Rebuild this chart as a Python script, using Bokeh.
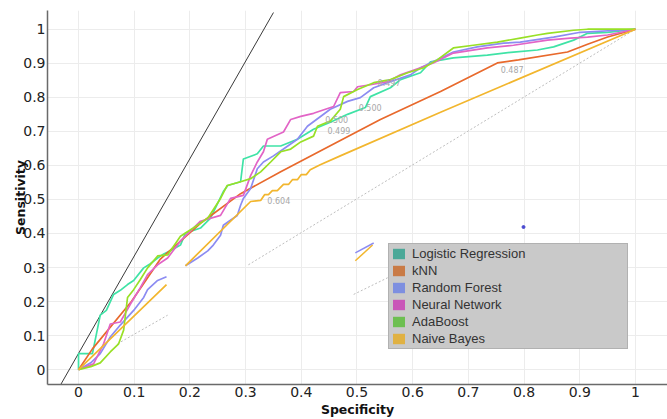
import math
from bokeh.plotting import figure
from bokeh.models import FixedTicker, Range1d, Legend, LegendItem
from bokeh.core.properties import value
from bokeh.embed import file_html
from bokeh.resources import INLINE

nan = float("nan")

# ---- data ----
tick_values = [0.0, 0.1, 0.2, 0.3, 0.4, 0.5, 0.6, 0.7, 0.8, 0.9, 1.0]
tick_labels = ["0", "0.1", "0.2", "0.3", "0.4", "0.5", "0.6", "0.7", "0.8", "0.9", "1"]

model_names = ["Logistic Regression", "kNN", "Random Forest", "Neural Network", "AdaBoost", "Naive Bayes"]
curve_colors = ["#3fe3a6", "#e8692c", "#8c8cf2", "#e264c6", "#98e026", "#f2b62e"]
swatch_colors = ["#4ba898", "#c97b46", "#7d8fe0", "#c956b8", "#6dbf51", "#e0b142"]

lr_x = [0, 0, 0.025, 0.039, 0.050, 0.063, 0.075, 0.088, 0.099, 0.117, 0.129, 0.142, 0.153, 0.165,
        0.183, 0.192, 0.219, 0.237, 0.260, 0.268, 0.291, 0.296, 0.321, 0.332, 0.363, 0.393, 0.422,
        0.452, 0.483, 0.515, 0.524, 0.560, 0.578, 0.614, 0.632, 0.673, 0.734, 0.781, 0.824, 0.853,
        0.889, 0.914, 0.950, 1.0]
lr_y = [0, 0.047, 0.047, 0.160, 0.174, 0.221, 0.233, 0.250, 0.262, 0.299, 0.311, 0.328, 0.340, 0.349,
        0.366, 0.401, 0.416, 0.445, 0.523, 0.541, 0.552, 0.619, 0.634, 0.657, 0.657, 0.677, 0.706,
        0.727, 0.750, 0.770, 0.802, 0.828, 0.852, 0.872, 0.904, 0.916, 0.924, 0.933, 0.939, 0.948,
        0.968, 0.988, 0.991, 1.0]

knn_x = [0, 0.025, 0.095, 0.147, 0.219, 0.291, 0.363, 0.434, 0.542, 0.650, 0.752, 0.790, 0.878, 0.914, 0.950, 1.0]
knn_y = [0, 0.061, 0.200, 0.325, 0.430, 0.517, 0.581, 0.642, 0.735, 0.817, 0.901, 0.910, 0.933, 0.956, 0.977, 1.0]

rf_x = [0, 0.022, 0.039, 0.057, 0.075, 0.099, 0.117, 0.124, 0.142, 0.158, nan, 0.192, 0.214, 0.232,
        0.242, 0.255, 0.260, 0.285, 0.291, 0.296, 0.309, 0.321, 0.332, 0.350, 0.368, 0.393, 0.411,
        0.452, 0.483, 0.506, 0.530, 0.560, 0.596, 0.614, 0.644, 0.673, 0.716, 0.763, 0.793, 0.853,
        0.901, 1.0]
rf_y = [0, 0.020, 0.047, 0.096, 0.131, 0.174, 0.212, 0.235, 0.262, 0.273, nan, 0.305, 0.328, 0.349,
        0.366, 0.395, 0.424, 0.453, 0.483, 0.503, 0.532, 0.590, 0.610, 0.628, 0.648, 0.677, 0.715,
        0.765, 0.788, 0.799, 0.828, 0.846, 0.866, 0.887, 0.910, 0.933, 0.948, 0.959, 0.962, 0.977,
        0.991, 1.0]

nn_x = [0, 0.027, 0.045, 0.057, 0.075, 0.093, 0.111, 0.124, 0.142, 0.160, 0.183, 0.219, 0.255, 0.273,
        0.296, 0.309, 0.321, 0.332, 0.339, 0.368, 0.381, 0.399, 0.422, 0.458, 0.470, 0.494, 0.501,
        0.524, 0.555, 0.578, 0.614, 0.637, 0.673, 0.734, 0.781, 0.842, 0.883, 0.914, 0.950, 1.0]
nn_y = [0, 0.017, 0.076, 0.134, 0.140, 0.192, 0.241, 0.279, 0.308, 0.328, 0.378, 0.436, 0.453, 0.503,
        0.512, 0.570, 0.610, 0.640, 0.677, 0.698, 0.735, 0.744, 0.753, 0.773, 0.814, 0.817, 0.831,
        0.837, 0.846, 0.866, 0.887, 0.901, 0.930, 0.945, 0.953, 0.968, 0.974, 0.977, 0.983, 1.0]

ada_x = [0, 0.022, 0.039, 0.057, 0.072, 0.081, 0.088, 0.099, 0.111, 0.124, 0.142, 0.160, 0.183, 0.206,
         0.232, 0.255, 0.267, 0.291, 0.309, 0.327, 0.345, 0.363, 0.381, 0.399, 0.422, 0.429, 0.452,
         0.470, 0.476, 0.501, 0.530, 0.560, 0.591, 0.620, 0.644, 0.673, 0.709, 0.752, 0.793, 0.824,
         0.842, 0.889, 0.914, 1.0]
ada_y = [0, 0.009, 0.020, 0.052, 0.076, 0.116, 0.212, 0.235, 0.265, 0.299, 0.334, 0.337, 0.392, 0.416,
         0.445, 0.503, 0.541, 0.552, 0.561, 0.581, 0.610, 0.640, 0.648, 0.669, 0.686, 0.715, 0.730,
         0.765, 0.802, 0.823, 0.843, 0.852, 0.872, 0.887, 0.910, 0.945, 0.953, 0.962, 0.974, 0.983,
         0.988, 0.997, 1.0, 1.0]

nb_x = [0, 0.158, nan, 0.192, 0.309, 0.327, 0.334, 0.341, 0.348, 0.357, 0.368, 0.377, 0.384, 0.393,
        0.400, 0.409, 0.416, 0.434, 0.470, 0.650, 1.0]
nb_y = [0, 0.250, nan, 0.305, 0.494, 0.497, 0.514, 0.514, 0.526, 0.526, 0.544, 0.544, 0.558, 0.558,
        0.573, 0.573, 0.587, 0.602, 0.628, 0.756, 1.0]

curves_x = [lr_x, knn_x, rf_x, nn_x, ada_x, nb_x]
curves_y = [lr_y, knn_y, rf_y, nn_y, ada_y, nb_y]

# stray fragments visible in the reference image
frag_rf_x = [0.497, 0.530]
frag_rf_y = [0.343, 0.372]
frag_nb_x = [0.497, 0.528]
frag_nb_y = [0.320, 0.366]
dot_x = [0.799]
dot_y = [0.419]

# reference lines
steep_x = [-0.032, 0.350]
steep_y = [-0.044, 1.049]
diag_x = [0.070, 0.160, nan, 0.305, 1.0, nan, 0.494, 0.555]
diag_y = [0.076, 0.160, nan, 0.308, 1.0, nan, 0.221, 0.270]

ann_x = [0.339, 0.447, 0.443, 0.503, 0.537, 0.758]
ann_y = [0.497, 0.703, 0.735, 0.770, 0.843, 0.881]
ann_text = ["0.604", "0.499", "0.500", "0.500", "0.497", "0.487"]

# ---- figure ----
p = figure(width=667, height=419, output_backend="svg", toolbar_location=None,
           x_range=Range1d(-0.0557, 1.0575), y_range=Range1d(-0.0436, 1.055),
           min_border_left=47, min_border_right=0, min_border_top=10, min_border_bottom=0)
p.outline_line_color = None
p.background_fill_color = "white"
p.border_fill_color = "white"

ticker = FixedTicker(ticks=tick_values)
overrides = dict(zip(tick_values, tick_labels))
for ax in (p.xaxis[0], p.yaxis[0]):
    ax.ticker = ticker
    ax.major_label_overrides = overrides
    ax.major_tick_out = 0
    ax.major_tick_in = 0
    ax.minor_tick_out = 0
    ax.minor_tick_in = 0
    ax.axis_line_color = "#6a6a6a"
    ax.axis_line_width = 1.5
    ax.major_label_text_font = "DejaVu Sans"
    ax.major_label_text_font_size = "14px"
    ax.major_label_text_color = "#222222"
    ax.major_label_standoff = 2
    ax.axis_label_text_font = "DejaVu Sans"
    ax.axis_label_text_font_size = "12.5px"
    ax.axis_label_text_font_style = "bold"
    ax.axis_label_text_color = "#111111"
p.xaxis.axis_label = "Specificity"
p.yaxis.axis_label = "Sensitivity"
p.xaxis.axis_label_standoff = 2
p.yaxis.axis_label_standoff = -8

p.xgrid.ticker = ticker
p.ygrid.ticker = ticker
p.grid.grid_line_color = "#ececec"
p.grid.grid_line_width = 1

p.line(steep_x, steep_y, line_color="#3a3a3a", line_width=1)
p.line(diag_x, diag_y, line_color="#bdbdbd", line_width=1, line_dash="2 2")

for xs, ys, col in zip(curves_x, curves_y, curve_colors):
    p.line(xs, ys, line_color=col, line_width=1.7)

p.line(frag_rf_x, frag_rf_y, line_color=curve_colors[2], line_width=1.5)
p.line(frag_nb_x, frag_nb_y, line_color=curve_colors[5], line_width=1.5)
p.scatter(dot_x, dot_y, size=3, color="#4a4ad0")

p.text(ann_x, ann_y, text=ann_text, text_font=value("DejaVu Sans"), text_font_size="8px",
       text_color="#a8a8a8", text_baseline="middle", text_align="left")

items = []
for name, col in zip(model_names, swatch_colors):
    r = p.quad(left=[nan], right=[nan], top=[nan], bottom=[nan], fill_color=col, line_color=None)
    items.append(LegendItem(label=name, renderers=[r]))

legend = Legend(items=items, location=(341, 35), margin=0, padding=2, spacing=2,
                glyph_width=15, glyph_height=13, label_height=13, label_width=213,
                label_standoff=6, label_text_font="Liberation Sans", label_text_font_size="13px",
                label_text_color="#333333", background_fill_color="#c9c9c9", background_fill_alpha=1,
                border_line_color="#9a9a9a", border_line_width=1)
p.add_layout(legend)

open("out.html", "w").write(file_html(p, INLINE))
